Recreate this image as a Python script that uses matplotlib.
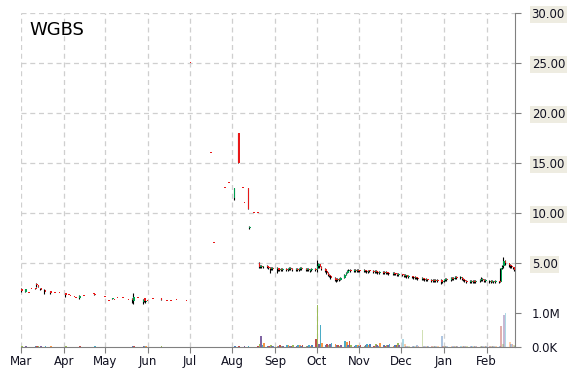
import matplotlib
matplotlib.use("Agg")
import matplotlib.pyplot as plt
import matplotlib.dates as mdates
import matplotlib.ticker as mticker
import numpy as np
import pandas as pd

ticker = "WGBS"

# thinly traded part (Mar - mid Aug), only the days that show a mark
sparse_dates = [
    "2013-03-01", "2013-03-04", "2013-03-06", "2013-03-08", "2013-03-11", "2013-03-12",
    "2013-03-13", "2013-03-15", "2013-03-18", "2013-03-22", "2013-03-25", "2013-03-28",
    "2013-04-02", "2013-04-04", "2013-04-05", "2013-04-08", "2013-04-09", "2013-04-12",
    "2013-04-15", "2013-04-22", "2013-04-23", "2013-04-30",
    "2013-05-03", "2013-05-06", "2013-05-07", "2013-05-09", "2013-05-13", "2013-05-17",
    "2013-05-20", "2013-05-21", "2013-05-24", "2013-05-28", "2013-05-29", "2013-05-30",
    "2013-05-31",
    "2013-06-04", "2013-06-10", "2013-06-14", "2013-06-17", "2013-06-21", "2013-06-28",
    "2013-07-01", "2013-07-16", "2013-07-18", "2013-07-26", "2013-07-29",
    "2013-08-02", "2013-08-05", "2013-08-08", "2013-08-09", "2013-08-12", "2013-08-13",
    "2013-08-16", "2013-08-19",
]
sparse_open = [2.4, 2.1, 2.0, 2.4, 2.5, 2.9, 2.8, 2.5, 2.3, 2.2, 2.0, 2.0,
               2.0, 1.8, 1.7, 1.6, 1.5, 1.5, 1.7, 1.9, 1.9, 1.6,
               1.2, 1.4, 1.3, 1.5, 1.5, 1.3, 1.4, 1.2, 1.5, 1.1, 1.5, 1.1, 1.2,
               1.4, 1.5, 1.2, 1.2, 1.3, 1.2,
               25.0, 16.0, 7.0, 12.5, 13.0,
               11.5, 18.0, 12.5, 11.0, 12.5, 8.5, 10.0, 10.0]
sparse_high = [2.5, 2.4, 2.0, 2.4, 2.5, 3.0, 2.8, 2.5, 2.4, 2.2, 2.0, 2.0,
               2.0, 1.8, 1.7, 1.6, 1.5, 1.8, 1.7, 1.9, 1.9, 1.6,
               1.2, 1.5, 1.3, 1.5, 1.5, 1.3, 1.5, 2.0, 1.5, 1.4, 1.5, 1.3, 1.2,
               1.4, 1.5, 1.2, 1.2, 1.3, 1.2,
               25.0, 16.0, 7.0, 12.5, 13.0,
               12.5, 18.0, 12.5, 11.0, 12.5, 8.7, 10.0, 10.0]
sparse_low = [2.1, 2.1, 2.0, 2.4, 2.4, 2.6, 2.6, 2.3, 1.9, 1.9, 2.0, 2.0,
              1.6, 1.8, 1.7, 1.6, 1.5, 1.4, 1.7, 1.9, 1.8, 1.6,
              1.2, 1.4, 1.3, 1.5, 1.5, 1.3, 1.0, 0.9, 1.5, 0.9, 1.1, 1.0, 1.2,
              1.4, 1.3, 1.2, 1.2, 1.3, 1.2,
              25.0, 16.0, 7.0, 12.5, 13.0,
              11.3, 15.0, 12.5, 11.0, 10.4, 8.4, 10.0, 10.0]
sparse_close = [2.2, 2.4, 2.0, 2.4, 2.4, 2.8, 2.6, 2.3, 2.1, 2.0, 2.0, 2.0,
                1.8, 1.8, 1.7, 1.6, 1.5, 1.7, 1.7, 1.9, 1.8, 1.6,
                1.2, 1.5, 1.3, 1.5, 1.5, 1.3, 1.3, 1.6, 1.5, 1.3, 1.2, 1.2, 1.2,
                1.4, 1.3, 1.2, 1.2, 1.3, 1.2,
                25.0, 16.0, 7.0, 12.5, 13.0,
                12.5, 15.0, 12.5, 11.0, 10.4, 8.6, 10.0, 10.0]
sparse_vol = [0.03, 0.02, 0.01, 0.01, 0.02, 0.04, 0.02, 0.02, 0.03, 0.02, 0.01, 0.01,
              0.02, 0.01, 0.01, 0.01, 0.01, 0.02, 0.01, 0.01, 0.02, 0.01,
              0.01, 0.01, 0.01, 0.01, 0.01, 0.01, 0.03, 0.04, 0.01, 0.03, 0.02, 0.02, 0.01,
              0.01, 0.02, 0.01, 0.01, 0.01, 0.01,
              0.01, 0.01, 0.01, 0.01, 0.01,
              0.02, 0.03, 0.01, 0.02, 0.02, 0.01, 0.01, 0.02]

# daily trading from Aug 20 on (one value per business day)
dense_open = (
    [5.0, 4.6, 4.7, 4.6, 4.7, 4.6, 4.5, 4.4, 4.5]
    + [4.4, 4.5, 4.3, 4.4, 4.3, 4.4, 4.3, 4.4, 4.5, 4.4, 4.3, 4.4, 4.3, 4.4, 4.5, 4.4, 4.3, 4.4, 4.2, 4.3, 4.4]
    + [4.3, 4.7, 4.9, 4.6, 4.4, 4.2, 4.0, 3.8, 3.7, 3.5, 3.3, 3.3, 3.4, 3.3, 3.5, 3.8, 4.0, 4.2, 4.3, 4.2, 4.3, 4.2, 4.3]
    + [4.2, 4.2, 4.3, 4.2, 4.1, 4.2, 4.2, 4.1, 4.2, 4.1, 4.0, 4.1, 4.0, 4.1, 4.0, 4.0, 3.9, 4.0, 3.9, 3.9, 3.8]
    + [3.9, 3.8, 3.7, 3.8, 3.6, 3.7, 3.6, 3.5, 3.6, 3.5, 3.4, 3.5, 3.4, 3.3, 3.4, 3.3, 3.2, 3.3, 3.2, 3.3, 3.3, 3.1]
    + [3.2, 3.3, 3.4, 3.3, 3.5, 3.4, 3.5, 3.6, 3.5, 3.6, 3.4, 3.3, 3.2, 3.1, 3.2, 3.1, 3.2, 3.1, 3.2, 3.3, 3.4, 3.3, 3.2]
    + [3.1, 3.2, 3.1, 3.2, 3.1, 3.2, 3.1, 4.5, 4.7, 5.2, 5.0, 4.8, 4.7, 4.6, 4.5]
)
dense_high = (
    [5.1, 4.8, 4.8, 4.7, 4.8, 4.7, 4.6, 4.6, 4.6]
    + [4.6, 4.5, 4.5, 4.5, 4.5, 4.5, 4.5, 4.6, 4.6, 4.5, 4.5, 4.5, 4.5, 4.6, 4.6, 4.5, 4.5, 4.5, 4.4, 4.5, 4.5]
    + [5.3, 5.0, 4.9, 4.7, 4.5, 4.3, 4.1, 3.9, 3.8, 3.6, 3.5, 3.5, 3.5, 3.6, 3.9, 4.1, 4.3, 4.4, 4.4, 4.4, 4.4, 4.4, 4.4]
    + [4.3, 4.4, 4.3, 4.3, 4.3, 4.3, 4.3, 4.3, 4.3, 4.2, 4.2, 4.2, 4.2, 4.2, 4.1, 4.1, 4.1, 4.1, 4.0, 4.0, 4.0]
    + [3.9, 3.9, 3.9, 3.8, 3.8, 3.7, 3.7, 3.7, 3.6, 3.6, 3.6, 3.5, 3.5, 3.5, 3.4, 3.4, 3.4, 3.4, 3.4, 3.4, 3.4, 3.3]
    + [3.4, 3.5, 3.5, 3.6, 3.6, 3.6, 3.7, 3.7, 3.7, 3.6, 3.5, 3.4, 3.3, 3.3, 3.3, 3.3, 3.3, 3.3, 3.4, 3.6, 3.5, 3.4, 3.4]
    + [3.3, 3.3, 3.3, 3.2, 3.3, 3.2, 4.5, 4.8, 5.6, 5.3, 5.0, 4.9, 4.8, 4.6, 4.5]
)
dense_low = (
    [4.5, 4.5, 4.5, 4.5, 4.5, 4.4, 4.0, 4.3, 4.3]
    + [4.0, 4.2, 4.2, 4.2, 4.2, 4.2, 4.2, 4.3, 4.3, 4.2, 4.2, 4.2, 4.2, 4.3, 4.3, 4.2, 4.2, 4.2, 4.1, 4.2, 4.2]
    + [4.1, 4.5, 4.5, 4.3, 4.1, 3.9, 3.7, 3.6, 3.4, 3.2, 3.1, 3.2, 3.2, 3.3, 3.5, 3.8, 4.0, 4.1, 4.1, 4.1, 4.1, 4.1, 4.1]
    + [4.1, 4.1, 4.1, 4.0, 4.0, 4.1, 4.0, 4.0, 4.0, 3.9, 3.9, 3.9, 3.9, 3.9, 3.9, 3.8, 3.8, 3.8, 3.8, 3.7, 3.7]
    + [3.7, 3.6, 3.6, 3.5, 3.5, 3.5, 3.4, 3.4, 3.4, 3.3, 3.3, 3.3, 3.2, 3.2, 3.2, 3.1, 3.1, 3.1, 3.1, 3.1, 2.9, 3.0]
    + [3.1, 3.2, 3.2, 3.2, 3.3, 3.3, 3.4, 3.4, 3.4, 3.3, 3.2, 3.1, 3.0, 3.0, 3.0, 3.0, 3.0, 3.0, 3.1, 3.2, 3.2, 3.1, 3.1]
    + [3.0, 3.0, 3.1, 3.0, 3.0, 3.0, 3.1, 4.4, 4.5, 4.8, 4.6, 4.5, 4.5, 4.4, 4.2]
)
dense_close = (
    [4.6, 4.7, 4.6, 4.7, 4.6, 4.5, 4.4, 4.5, 4.4]
    + [4.5, 4.3, 4.4, 4.3, 4.4, 4.3, 4.4, 4.5, 4.4, 4.3, 4.4, 4.3, 4.4, 4.5, 4.4, 4.3, 4.4, 4.3, 4.3, 4.4, 4.3]
    + [4.7, 4.9, 4.6, 4.4, 4.2, 4.0, 3.8, 3.7, 3.5, 3.3, 3.3, 3.4, 3.3, 3.5, 3.8, 4.0, 4.2, 4.3, 4.2, 4.3, 4.2, 4.3, 4.2]
    + [4.2, 4.3, 4.2, 4.1, 4.2, 4.2, 4.1, 4.2, 4.1, 4.0, 4.1, 4.0, 4.1, 4.0, 4.0, 3.9, 4.0, 3.9, 3.9, 3.8, 3.9]
    + [3.8, 3.7, 3.8, 3.6, 3.7, 3.6, 3.5, 3.6, 3.5, 3.4, 3.5, 3.4, 3.3, 3.4, 3.3, 3.2, 3.3, 3.2, 3.3, 3.2, 3.1, 3.2]
    + [3.3, 3.4, 3.3, 3.5, 3.4, 3.5, 3.6, 3.5, 3.6, 3.4, 3.3, 3.2, 3.1, 3.2, 3.1, 3.2, 3.1, 3.2, 3.3, 3.4, 3.3, 3.2, 3.3]
    + [3.2, 3.1, 3.2, 3.1, 3.2, 3.1, 4.5, 4.6, 5.2, 5.0, 4.8, 4.7, 4.6, 4.5, 4.3]
)
dense_vol = (
    [0.08, 0.32, 0.05, 0.12, 0.04, 0.03, 0.05, 0.03, 0.04]
    + [0.03, 0.04, 0.05, 0.03, 0.04, 0.06, 0.05, 0.04, 0.03, 0.05, 0.04, 0.06, 0.05, 0.04, 0.05, 0.04, 0.03, 0.05, 0.04, 0.06, 0.24]
    + [1.24, 0.10, 0.65, 0.12, 0.06, 0.08, 0.05, 0.10, 0.12, 0.10, 0.06, 0.05, 0.04, 0.05, 0.17, 0.15, 0.06, 0.18, 0.05, 0.04, 0.06, 0.05, 0.04]
    + [0.05, 0.04, 0.06, 0.08, 0.05, 0.10, 0.04, 0.10, 0.05, 0.04, 0.12, 0.05, 0.04, 0.06, 0.05, 0.08, 0.04, 0.07, 0.05, 0.12, 0.06]
    + [0.24, 0.10, 0.04, 0.03, 0.04, 0.03, 0.04, 0.03, 0.05, 0.03, 0.50, 0.04, 0.03, 0.04, 0.03, 0.03, 0.04, 0.03, 0.04, 0.03, 0.32, 0.04]
    + [0.03, 0.04, 0.03, 0.02, 0.03, 0.04, 0.03, 0.02, 0.03, 0.03, 0.04, 0.03, 0.02, 0.03, 0.04, 0.03, 0.02, 0.03, 0.04, 0.03, 0.02, 0.03, 0.03]
    + [0.03, 0.02, 0.03, 0.02, 0.03, 0.04, 0.62, 0.10, 0.95, 1.00, 0.15, 0.10, 0.08, 0.05, 0.04]
)

price_ticks = [5, 10, 15, 20, 25, 30]
vol_ticks = [0, 1e6]
vol_labels = ["0.0K", "1.0M"]
vol_palette = ["#4f81bd", "#c0504d", "#9bbb59", "#8064a2", "#4bacc6", "#f79646"]

dates = list(pd.to_datetime(sparse_dates)) + list(pd.bdate_range("2013-08-20", "2014-02-21"))
x = mdates.date2num(dates)
o = np.array(sparse_open + dense_open)
h = np.array(sparse_high + dense_high)
lo = np.array(sparse_low + dense_low)
c = np.array(sparse_close + dense_close)
v = np.array(sparse_vol + dense_vol) * 1e6

fig = plt.figure(figsize=(5.7, 3.7), dpi=100)
ax = fig.add_axes([21 / 570, 23 / 370, 494 / 570, 334 / 370])
axv = ax.twinx()

start = mdates.date2num(pd.Timestamp("2013-03-01"))
ax.set_xlim(start, start + 357.6)
ax.set_ylim(-3.4, 30)
axv.set_ylim(0, 334 / 34 * 1e6)

# volume bars, colour cycle lined up so the Oct 1 spike is green
oct1 = dates.index(pd.Timestamp("2013-10-01"))
shift = (2 - oct1) % 6
late = pd.Timestamp("2013-12-01")
for i in range(len(x)):
    axv.bar(x[i] + 0.1, v[i], width=1.25, align="edge",
            color=vol_palette[(i + shift) % 6],
            alpha=0.45 if dates[i] >= late else 1.0, linewidth=0)

# candles: black wick, coloured body next to it
ax.vlines(x, lo, h, color="black", linewidth=0.8, zorder=3)
body_col = np.where(c > o, "#00a050", "#e81818")
body_bot = np.minimum(o, c)
body_h = np.maximum(np.abs(c - o), 0.12)
ax.bar(x + 0.15, body_h, bottom=body_bot, width=1.1, align="edge",
       color=body_col, linewidth=0, zorder=4)

# axes styling
grid_kw = dict(color="#cfcfcf", linestyle=(0, (4, 3)), linewidth=0.9)
ax.xaxis.set_major_locator(mdates.MonthLocator())
ax.xaxis.set_major_formatter(mdates.DateFormatter("%b"))
ax.set_yticks(price_ticks)
ax.yaxis.set_major_formatter(mticker.FormatStrFormatter("%.2f"))
ax.grid(True, **grid_kw)
ax.set_axisbelow(True)

ax.yaxis.tick_right()
ax.tick_params(axis="y", length=4, color="#808080", pad=8, labelsize=8.5, labelcolor="#101020")
ax.tick_params(axis="x", length=4, color="#808080", pad=2, labelsize=8.5, labelcolor="#101020")
for lab in ax.get_yticklabels():
    lab.set_bbox(dict(facecolor="#eeece1", edgecolor="none", pad=1.2))

axv.set_yticks(vol_ticks)
axv.set_yticklabels(vol_labels)
axv.tick_params(axis="y", length=4, color="#808080", pad=8, labelsize=8.5, labelcolor="#101020")

for s in ["top", "left"]:
    ax.spines[s].set_visible(False)
for s in ["bottom", "right"]:
    ax.spines[s].set_color("#808080")
for s in axv.spines.values():
    s.set_visible(False)

fig.text(29 / 570, 1 - 30 / 370, ticker, fontsize=13, va="center", ha="left", color="#000000")

fig.savefig("out.png", dpi=100)
plt.close(fig)
